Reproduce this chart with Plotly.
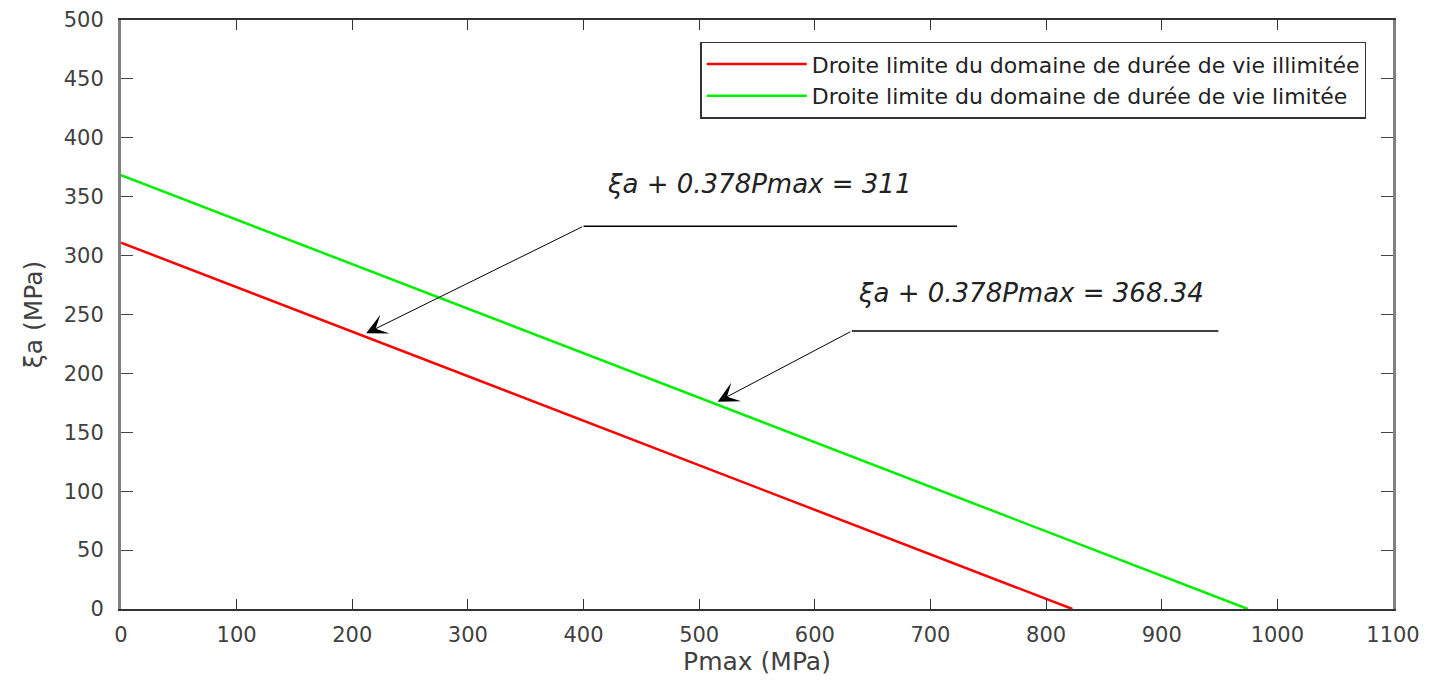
import plotly.graph_objects as go

# Data: endpoints of the two limit lines (Pmax, xi_a)
pmax_illimitee = [0, 822.75]
xia_illimitee = [311, 0]
pmax_limitee = [0, 974.44]
xia_limitee = [368.34, 0]

series_names = ["Droite limite du domaine de durée de vie illimitée",
                "Droite limite du domaine de durée de vie limitée"]
eq_labels = ["ξa + 0.378Pmax = 311", "ξa + 0.378Pmax = 368.34"]

x_ticks = list(range(0, 1101, 100))
y_ticks = list(range(0, 501, 50))

FONT = "DejaVu Sans, Liberation Sans, Arial, sans-serif"

fig = go.Figure()
fig.add_trace(go.Scatter(x=pmax_illimitee, y=xia_illimitee, mode="lines",
                         line=dict(color="#ff0000", width=2.5), name=series_names[0]))
fig.add_trace(go.Scatter(x=pmax_limitee, y=xia_limitee, mode="lines",
                         line=dict(color="#00ee00", width=2.5), name=series_names[1]))

# leader lines (horizontal parts)
fig.add_shape(type="line", x0=400, y0=325, x1=723, y1=325, xref="x", yref="y",
              line=dict(color="black", width=1.5))
fig.add_shape(type="line", x0=632, y0=236, x1=949, y1=236, xref="x", yref="y",
              line=dict(color="black", width=1.5))

# arrows
fig.add_annotation(x=212, y=234, ax=400, ay=325, xref="x", yref="y", axref="x", ayref="y",
                   text="", showarrow=True, arrowhead=3, arrowsize=3.5, arrowwidth=1,
                   arrowcolor="black")
fig.add_annotation(x=516, y=176, ax=632, ay=236, xref="x", yref="y", axref="x", ayref="y",
                   text="", showarrow=True, arrowhead=3, arrowsize=3.5, arrowwidth=1,
                   arrowcolor="black")

# equation texts
fig.add_annotation(x=552, y=361, xref="x", yref="y", text="<i>" + eq_labels[0] + "</i>",
                   showarrow=False, font=dict(family=FONT, size=26, color="#222222"))
fig.add_annotation(x=787, y=268, xref="x", yref="y", text="<i>" + eq_labels[1] + "</i>",
                   showarrow=False, font=dict(family=FONT, size=26, color="#222222"))

fig.update_layout(
    width=1445, height=681,
    margin=dict(l=113, r=60, t=12, b=80),
    paper_bgcolor="white", plot_bgcolor="white",
    font=dict(family=FONT, size=20, color="#404040"),
    showlegend=True,
    legend=dict(x=0.979, y=0.963, xanchor="right", yanchor="top",
                bordercolor="#333333", borderwidth=1.5, bgcolor="white",
                font=dict(family=FONT, size=22, color="#222222"),
                tracegroupgap=0, itemwidth=100),
    xaxis=dict(range=[0, 1100], tickvals=x_ticks, ticks="inside", ticklen=10,
               tickcolor="#333333", showline=True, mirror="ticks", linecolor="#333333",
               linewidth=2, showgrid=False, zeroline=False, ticklabelstandoff=6,
               automargin=False,
               title=dict(text="Pmax (MPa)", font=dict(size=25, color="#404040"), standoff=6),
               tickfont=dict(size=21, color="#404040")),
    yaxis=dict(range=[0, 500], tickvals=y_ticks, ticks="inside", ticklen=12,
               tickcolor="#444444", showline=True, mirror="ticks", linecolor="#808080",
               linewidth=3, showgrid=False, zeroline=False, ticklabelstandoff=10,
               automargin=False,
               title=dict(text="ξa (MPa)", font=dict(size=25, color="#404040"), standoff=14),
               tickfont=dict(size=21, color="#404040")),
)

fig.write_html("out.html")
